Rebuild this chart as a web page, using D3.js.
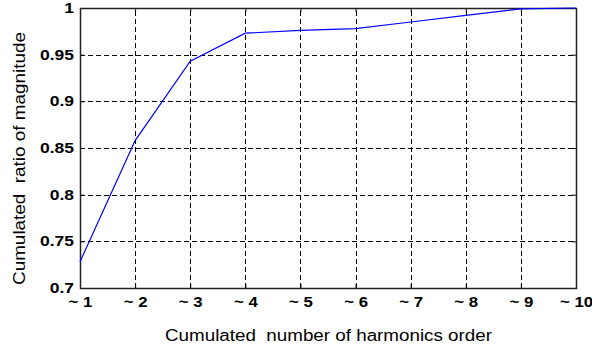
<!DOCTYPE html>
<html>
<head>
<meta charset="utf-8">
<script src="https://cdn.jsdelivr.net/npm/d3@7"></script>
<style>
  html, body { margin: 0; padding: 0; background: #fff; }
  svg { display: block; }
  text { font-family: "Liberation Sans", Arial, sans-serif; fill: #000; }
</style>
</head>
<body>
<svg id="chart" width="592" height="352"></svg>
<script>
// Cumulated harmonic order and the matching cumulated magnitude ratio
const orders = [1, 2, 3, 4, 5, 6, 7, 8, 9, 10];
const ratios = [0.728, 0.858, 0.943, 0.973, 0.976, 0.978, 0.985, 0.992, 0.999, 1.0];
const yTicks = [0.7, 0.75, 0.8, 0.85, 0.9, 0.95, 1];
const xTickLabels = ["~ 1", "~ 2", "~ 3", "~ 4", "~ 5", "~ 6", "~ 7", "~ 8", "~ 9", "~ 10"];

const svg = d3.select("#chart");
const margin = { left: 80, right: 16, top: 8, bottom: 64 };
const W = 592, H = 352;
const x0 = margin.left, x1 = W - margin.right;
const y0 = H - margin.bottom, y1 = margin.top;

const x = d3.scaleLinear().domain([1, 10]).range([x0, x1]);
const y = d3.scaleLinear().domain([0.7, 1]).range([y0, y1]);

// widen glyphs horizontally along the text direction
function stretch(sel, k) {
  sel.each(function () {
    const len = this.getComputedTextLength();
    if (len > 0) {
      d3.select(this).attr("textLength", len * k).attr("lengthAdjust", "spacingAndGlyphs");
    }
  });
}

// dashed grid
const grid = svg.append("g").attr("stroke", "#000").attr("stroke-width", 1)
  .attr("stroke-dasharray", "5,3").attr("shape-rendering", "crispEdges");
grid.selectAll("line.v").data(orders.slice(1, -1)).join("line")
  .attr("x1", d => Math.round(x(d)) + 0.5).attr("x2", d => Math.round(x(d)) + 0.5)
  .attr("y1", y0).attr("y2", y1);
grid.selectAll("line.h").data(yTicks.slice(1, -1)).join("line")
  .attr("y1", d => Math.round(y(d)) + 0.5).attr("y2", d => Math.round(y(d)) + 0.5)
  .attr("x1", x0).attr("x2", x1);

// axes with inward ticks on all four sides
const fmtX = (d, i) => xTickLabels[i];
const axBottom = svg.append("g").attr("transform", `translate(0,${y0})`)
  .call(d3.axisBottom(x).tickValues(orders).tickFormat(fmtX).tickSizeInner(-4).tickSizeOuter(0).tickPadding(9));
const axTop = svg.append("g").attr("transform", `translate(0,${y1})`)
  .call(d3.axisTop(x).tickValues(orders).tickFormat("").tickSizeInner(-4).tickSizeOuter(0));
const axLeft = svg.append("g").attr("transform", `translate(${x0},0)`)
  .call(d3.axisLeft(y).tickValues(yTicks).tickFormat(d3.format("")).tickSizeInner(-4).tickSizeOuter(0).tickPadding(6));
const axRight = svg.append("g").attr("transform", `translate(${x1},0)`)
  .call(d3.axisRight(y).tickValues(yTicks).tickFormat("").tickSizeInner(-4).tickSizeOuter(0));

[axBottom, axTop, axLeft, axRight].forEach(g => {
  g.select(".domain").remove();
  g.selectAll("line").attr("stroke", "#000");
  g.selectAll("text").attr("font-size", 14).attr("font-weight", "bold")
    .attr("fill", "#111").attr("font-family", "Liberation Sans, Arial, sans-serif");
});
stretch(axBottom.selectAll("text"), 1.2);
stretch(axLeft.selectAll("text"), 1.25);

// frame
svg.append("rect").attr("x", x0 + 0.5).attr("y", y1 + 0.5)
  .attr("width", x1 - x0).attr("height", y0 - y1)
  .attr("fill", "none").attr("stroke", "#222").attr("stroke-width", 1.5);

// data line
const line = d3.line().x((d, i) => x(orders[i])).y(d => y(d));
svg.append("path").datum(ratios).attr("d", line)
  .attr("fill", "none").attr("stroke", "#0000ff").attr("stroke-width", 1.2);

// axis titles
const xTitle = svg.append("text").attr("x", 328.5).attr("y", 341)
  .attr("text-anchor", "middle").attr("font-size", 16).attr("fill", "#111")
  .attr("xml:space", "preserve")
  .text("Cumulated  number of harmonics order");
xTitle.attr("textLength", 327).attr("lengthAdjust", "spacingAndGlyphs");

const yTitle = svg.append("text").attr("transform", "translate(25,158.5) rotate(-90)")
  .attr("text-anchor", "middle").attr("font-size", 16).attr("fill", "#111")
  .attr("xml:space", "preserve")
  .text("Cumulated  ratio of magnitude");
yTitle.attr("textLength", 253).attr("lengthAdjust", "spacingAndGlyphs");
</script>
</body>
</html>
